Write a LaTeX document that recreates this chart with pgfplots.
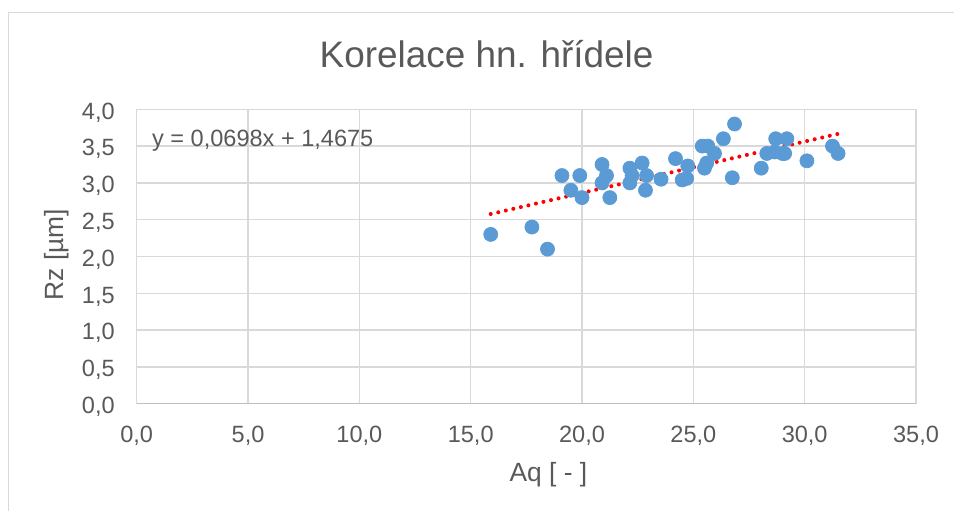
\documentclass[border=0pt]{standalone}
\usepackage{pgfplots}
\pgfplotsset{compat=1.18}
\usepackage{fontspec}
\setmainfont{Liberation Sans}
\definecolor{txt}{HTML}{595959}
\definecolor{gridc}{HTML}{D9D9D9}
\definecolor{axc}{HTML}{BFBFBF}
\definecolor{ptc}{HTML}{5B9BD5}
\begin{document}
\begin{tikzpicture}
\useasboundingbox (0,0) rectangle (19.08cm,10.22cm);
\begin{scope}[x=0.02cm,y=0.02cm]
\draw[gridc, line width=0.9pt] (8.7,-5) -- (8.7,498.3) -- (960,498.3);
\node[txt, anchor=base, inner sep=0pt, font=\fontsize{21pt}{25pt}\selectfont] at (486.5,443.3) {Korelace hn. hřídele};
\node[txt, anchor=base, inner sep=0pt, font=\fontsize{15pt}{18pt}\selectfont] at (548.3,29.3) {Aq [ - ]};
\node[txt, anchor=base, rotate=90, inner sep=0pt, font=\fontsize{15pt}{18pt}\selectfont] at (63.3,256.5) {Rz [µm]};
\end{scope}
\begin{axis}[
  at={(2.734cm,2.146cm)}, anchor=south west,
  scale only axis, width=15.586cm, height=5.888cm,
  xmin=0, xmax=35, ymin=0, ymax=4,
  xtick={0,5,10,15,20,25,30,35},
  xticklabels={{0,0},{5,0},{10,0},{15,0},{20,0},{25,0},{30,0},{35,0}},
  ytick={0,0.5,1,1.5,2,2.5,3,3.5,4},
  yticklabels={{0,0},{0,5},{1,0},{1,5},{2,0},{2,5},{3,0},{3,5},{4,0}},
  grid=major,
  major grid style={draw=gridc, line width=0.85pt},
  axis x line*=bottom, axis y line*=left,
  x axis line style={draw=axc, line width=0.85pt, -},
  y axis line style={draw=none},
  major tick length=0pt,
  tick style={draw=none},
  xticklabel style={txt, anchor=base, inner sep=0pt, yshift=-22.2pt, font=\fontsize{13.4pt}{16pt}\selectfont},
  yticklabel style={txt, anchor=base east, inner sep=0pt, xshift=-12.3pt, yshift=-5.6pt, font=\fontsize{13.4pt}{16pt}\selectfont},
  clip=false,
]
\addplot[only marks, mark=*, mark size=4pt, mark options={fill=ptc, draw=ptc}] coordinates {
(15.9,2.30) (17.75,2.40) (18.45,2.10) (19.1,3.10) (19.5,2.90) (19.9,3.10)
(20.0,2.80) (20.9,3.25) (21.1,3.10) (20.9,3.00) (21.25,2.80) (22.15,3.20)
(22.25,3.10) (22.15,3.00) (22.7,3.27) (22.9,3.10) (22.85,2.90) (23.55,3.05)
(24.2,3.33) (24.75,3.23) (24.5,3.04) (24.7,3.06) (25.4,3.50) (25.65,3.50)
(25.95,3.40) (25.6,3.27) (25.5,3.20) (26.35,3.60) (26.85,3.80) (26.75,3.07)
(28.05,3.20) (28.3,3.40) (28.7,3.60) (28.65,3.42) (29.2,3.60) (29.1,3.40)
(29.0,3.40) (30.1,3.30) (31.25,3.50) (31.5,3.40)
};
\addplot[red, line width=2.3pt, line cap=round, dash pattern=on 0pt off 4.4pt] coordinates {
(15.9,2.5773) (31.5,3.6662)
};
\node[txt, anchor=base west, inner sep=0pt, font=\fontsize{13.4pt}{16pt}\selectfont] at (axis cs:0.675,3.488) {y = 0,0698x + 1,4675};
\end{axis}
\end{tikzpicture}
\end{document}
